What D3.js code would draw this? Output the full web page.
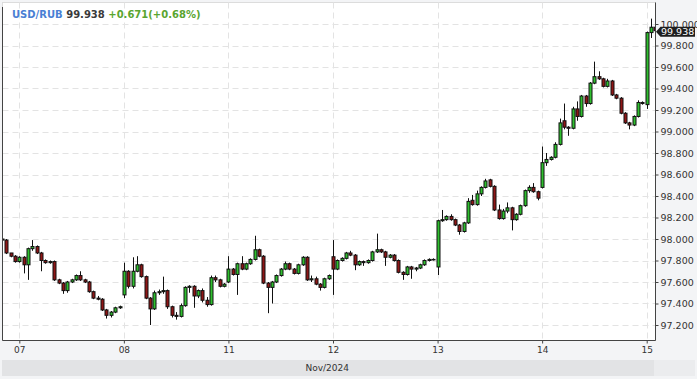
<!DOCTYPE html>
<html>
<head>
<meta charset="utf-8">
<script src="https://cdn.jsdelivr.net/npm/d3@7"></script>
<style>
  html, body { margin: 0; padding: 0; background: #f3f4f6; }
  svg { display: block; font-family: "DejaVu Sans", sans-serif; }
</style>
</head>
<body>
<div id="chart"></div>
<script>
// hourly candles, Nov 6 20:00 .. Nov 15 02:00 (weekend skipped)
const dayLabels = ["07", "08", "11", "12", "13", "14", "15"];
const dayIndex = [4, 28, 52, 76, 100, 124, 148];
const monthLabel = "Nov/2024";
const yTicks = [97.2, 97.4, 97.6, 97.8, 98.0, 98.2, 98.4, 98.6, 98.8, 99.0, 99.2, 99.4, 99.6, 99.8, 100.0];

const symbol = "USD/RUB";
const lastPrice = 99.938;
const change = "+0.671(+0.68%)";

const open = [
  98.00, 97.99, 97.87, 97.84, 97.79, 97.83, 97.76, 97.91, 97.93, 97.87, 97.80, 97.78, 97.79, 97.62, 97.59, 97.52,
  97.60, 97.62, 97.66, 97.62, 97.60, 97.51, 97.45, 97.44, 97.34, 97.29, 97.32, 97.36,
  97.48, 97.70, 97.56, 97.70, 97.76, 97.65, 97.45, 97.35, 97.50, 97.51, 97.52, 97.37,
  97.29, 97.28, 97.38, 97.55, 97.56, 97.47, 97.52, 97.43, 97.39, 97.64, 97.62, 97.56,
  97.60, 97.72, 97.67, 97.77, 97.72, 97.77, 97.81, 97.90, 97.84, 97.59, 97.55, 97.60, 97.66, 97.72,
  97.77, 97.72, 97.68, 97.76, 97.83, 97.62, 97.63, 97.58, 97.55, 97.63,
  97.835, 97.72, 97.80, 97.82, 97.87, 97.85, 97.76, 97.79, 97.78, 97.80, 97.88, 97.90, 97.88, 97.83,
  97.85, 97.80, 97.69, 97.67, 97.74, 97.72, 97.73, 97.76, 97.80, 97.81,
  97.74, 98.17, 98.18, 98.21, 98.18, 98.13, 98.07, 98.15, 98.36, 98.32, 98.42, 98.48, 98.55, 98.49,
  98.27, 98.19, 98.26, 98.29, 98.18, 98.23, 98.31, 98.45, 98.48, 98.44,
  98.48, 98.71, 98.74, 98.76, 98.88, 99.10, 99.04, 99.03, 99.21, 99.14, 99.33, 99.26, 99.45, 99.51,
  99.49, 99.42, 99.47, 99.34, 99.31, 99.17, 99.08, 99.06, 99.14, 99.27,
  99.25, 99.92, 99.97
];
const high = [
  98.01, 98.00, 97.87, 97.85, 97.84, 97.84, 97.92, 97.99, 97.94, 97.88, 97.81, 97.80, 97.80, 97.63, 97.60, 97.61,
  97.63, 97.67, 97.70, 97.63, 97.61, 97.52, 97.47, 97.45, 97.35, 97.33, 97.37, 97.38,
  97.78, 97.71, 97.83, 97.84, 97.77, 97.66, 97.46, 97.52, 97.53, 97.65, 97.53, 97.38,
  97.32, 97.40, 97.56, 97.57, 97.57, 97.53, 97.54, 97.46, 97.66, 97.66, 97.63, 97.59,
  97.84, 97.73, 97.78, 97.84, 97.78, 97.82, 98.03, 97.91, 97.85, 97.60, 97.61, 97.67, 97.73, 97.79,
  97.78, 97.73, 97.77, 97.84, 97.84, 97.66, 97.65, 97.59, 97.64, 97.67,
  97.99, 97.81, 97.83, 97.88, 97.89, 97.86, 97.80, 97.80, 97.81, 97.89, 98.05, 97.91, 97.89, 97.86,
  97.86, 97.81, 97.70, 97.75, 97.75, 97.74, 97.77, 97.81, 97.82, 97.82,
  98.18, 98.27, 98.22, 98.23, 98.19, 98.14, 98.16, 98.38, 98.41, 98.45, 98.49, 98.56, 98.56, 98.50,
  98.32, 98.28, 98.34, 98.30, 98.24, 98.32, 98.46, 98.50, 98.52, 98.45,
  98.86, 98.80, 98.77, 98.90, 99.12, 99.26, 99.05, 99.23, 99.28, 99.34, 99.34, 99.46, 99.65, 99.56,
  99.50, 99.49, 99.48, 99.35, 99.32, 99.18, 99.09, 99.15, 99.29, 99.28,
  99.93, 100.05, 100.03
];
const low = [
  97.97, 97.86, 97.83, 97.78, 97.78, 97.68, 97.62, 97.89, 97.86, 97.70, 97.77, 97.77, 97.61, 97.58, 97.49, 97.50,
  97.59, 97.61, 97.61, 97.59, 97.50, 97.44, 97.43, 97.33, 97.26, 97.27, 97.31, 97.35,
  97.45, 97.54, 97.54, 97.69, 97.64, 97.44, 97.20, 97.34, 97.48, 97.49, 97.35, 97.27,
  97.25, 97.27, 97.37, 97.50, 97.36, 97.45, 97.41, 97.37, 97.38, 97.60, 97.55, 97.55,
  97.59, 97.66, 97.48, 97.71, 97.71, 97.76, 97.80, 97.83, 97.58, 97.31, 97.40, 97.59, 97.65, 97.71,
  97.71, 97.67, 97.67, 97.75, 97.61, 97.60, 97.57, 97.52, 97.54, 97.62,
  97.48, 97.71, 97.79, 97.81, 97.84, 97.71, 97.75, 97.75, 97.77, 97.79, 97.87, 97.87, 97.75, 97.82,
  97.79, 97.68, 97.62, 97.66, 97.63, 97.70, 97.72, 97.75, 97.79, 97.80,
  97.665, 98.16, 98.17, 98.17, 98.12, 98.04, 98.06, 98.14, 98.31, 98.31, 98.40, 98.47, 98.48, 98.26,
  98.18, 98.18, 98.24, 98.08, 98.17, 98.22, 98.30, 98.43, 98.43, 98.36,
  98.47, 98.68, 98.73, 98.75, 98.87, 99.02, 98.96, 99.02, 99.10, 99.13, 99.23, 99.25, 99.44, 99.48,
  99.41, 99.41, 99.33, 99.30, 99.16, 99.07, 99.02, 99.05, 99.13, 99.25,
  99.21, 99.87, 99.93
];
const close = [
  97.99, 97.87, 97.84, 97.79, 97.83, 97.76, 97.91, 97.93, 97.87, 97.80, 97.78, 97.79, 97.62, 97.59, 97.52, 97.60,
  97.62, 97.66, 97.62, 97.60, 97.51, 97.45, 97.44, 97.34, 97.29, 97.32, 97.36, 97.37,
  97.70, 97.56, 97.70, 97.76, 97.65, 97.45, 97.35, 97.50, 97.51, 97.52, 97.37, 97.29,
  97.28, 97.38, 97.55, 97.56, 97.47, 97.52, 97.43, 97.39, 97.64, 97.62, 97.56, 97.58,
  97.72, 97.67, 97.77, 97.72, 97.77, 97.81, 97.90, 97.84, 97.59, 97.55, 97.60, 97.66, 97.72, 97.77,
  97.72, 97.68, 97.76, 97.83, 97.62, 97.63, 97.58, 97.55, 97.63, 97.66,
  97.72, 97.80, 97.82, 97.87, 97.85, 97.76, 97.79, 97.78, 97.80, 97.88, 97.90, 97.88, 97.83, 97.85,
  97.80, 97.69, 97.67, 97.74, 97.72, 97.73, 97.76, 97.80, 97.81, 97.81,
  98.17, 98.18, 98.21, 98.18, 98.13, 98.07, 98.15, 98.35, 98.32, 98.42, 98.48, 98.54, 98.49, 98.27,
  98.19, 98.26, 98.29, 98.18, 98.23, 98.31, 98.45, 98.48, 98.44, 98.38,
  98.71, 98.74, 98.76, 98.88, 99.08, 99.04, 99.03, 99.21, 99.14, 99.33, 99.26, 99.45, 99.51, 99.49,
  99.42, 99.47, 99.34, 99.31, 99.17, 99.08, 99.06, 99.14, 99.27, 99.26,
  99.92, 99.97, 99.938
];

const candles = open.map((o, i) => ({ i, o, h: high[i], l: low[i], c: close[i] }));

const width = 697;
const height = 379;
const plot = { left: 2.5, right: 655.5, top: 2.5, bottom: 340.5 };

const svg = d3
  .select("#chart")
  .append("svg")
  .attr("width", width)
  .attr("height", height);

// backgrounds
svg.append("rect").attr("width", width).attr("height", height).attr("fill", "#f3f4f6");
svg.append("rect").attr("x", 2).attr("y", 360).attr("width", 693).attr("height", 16).attr("fill", "#ebecee");
svg.append("rect").attr("x", 2).attr("y", 360).attr("width", 652).attr("height", 16).attr("fill", "#e2e3e5");
svg
  .append("rect")
  .attr("x", plot.left)
  .attr("y", plot.top)
  .attr("width", plot.right - plot.left)
  .attr("height", plot.bottom - plot.top)
  .attr("fill", "#fff")
  .attr("stroke", "#dcdcdc");

const xScale = d3.scaleLinear().domain([4, 148]).range([19.3, 646.7]);
const yScale = d3.scaleLinear().domain([97.2, 100.0]).range([325, 24]);

svg
  .append("clipPath")
  .attr("id", "clip")
  .append("rect")
  .attr("x", plot.left)
  .attr("y", plot.top)
  .attr("width", plot.right - plot.left)
  .attr("height", plot.bottom - plot.top);

// grid
const grid = svg.append("g").attr("stroke", "#e3e3e3").attr("stroke-dasharray", "6,4");
grid
  .selectAll("line.h")
  .data(yTicks)
  .enter()
  .append("line")
  .attr("x1", plot.left)
  .attr("x2", plot.right)
  .attr("y1", (d) => Math.round(yScale(d)) + 0.5)
  .attr("y2", (d) => Math.round(yScale(d)) + 0.5);
grid
  .selectAll("line.v")
  .data(dayIndex)
  .enter()
  .append("line")
  .attr("x1", (d) => Math.round(xScale(d)) + 0.5)
  .attr("x2", (d) => Math.round(xScale(d)) + 0.5)
  .attr("y1", plot.top)
  .attr("y2", plot.bottom);

// candles
const g = svg.append("g").attr("clip-path", "url(#clip)");
const bodyW = 3;

g.selectAll("line.wick")
  .data(candles)
  .enter()
  .append("line")
  .attr("x1", (d) => Math.round(xScale(d.i)) + 0.5)
  .attr("x2", (d) => Math.round(xScale(d.i)) + 0.5)
  .attr("y1", (d) => yScale(d.h))
  .attr("y2", (d) => yScale(d.l))
  .attr("stroke", "#111")
  .attr("stroke-width", 1);

g.selectAll("rect.body")
  .data(candles)
  .enter()
  .append("rect")
  .attr("x", (d) => Math.round(xScale(d.i)) + 0.5 - bodyW / 2)
  .attr("y", (d) => yScale(Math.max(d.o, d.c)))
  .attr("width", bodyW)
  .attr("height", (d) => Math.max(0.5, Math.abs(yScale(d.o) - yScale(d.c))))
  .attr("fill", (d) => (d.c >= d.o ? "#2fbf2f" : "#8e1616"))
  .attr("stroke", "#111")
  .attr("stroke-width", 1);

// frame
const frame = svg.append("g").attr("stroke", "#444").attr("stroke-width", 1);
frame.append("line").attr("x1", plot.left).attr("x2", plot.left).attr("y1", 7).attr("y2", plot.bottom);
frame.append("line").attr("x1", plot.left).attr("x2", plot.right).attr("y1", plot.bottom).attr("y2", plot.bottom);

// x axis
const xAxis = d3
  .axisBottom(xScale)
  .tickValues(dayIndex)
  .tickFormat((d, i) => dayLabels[i])
  .tickSize(3)
  .tickPadding(3);
const gx = svg
  .append("g")
  .attr("transform", `translate(0, ${plot.bottom})`)
  .call(xAxis);
gx.select(".domain").remove();
gx.selectAll(".tick line").attr("stroke", "#444");
gx.selectAll(".tick text")
  .attr("fill", "#333")
  .attr("font-size", "9px")
  .attr("font-family", "DejaVu Sans, sans-serif");

svg
  .append("text")
  .attr("x", 349)
  .attr("y", 371)
  .attr("text-anchor", "end")
  .attr("fill", "#333")
  .attr("font-size", "9px")
  .text(monthLabel);

// y axis on the right
const yAxis = d3
  .axisRight(yScale)
  .tickValues(yTicks)
  .tickFormat(d3.format(".3f"))
  .tickSize(3)
  .tickPadding(2);
const gy = svg
  .append("g")
  .attr("transform", `translate(${plot.right}, 0)`)
  .call(yAxis);
gy.select(".domain").attr("d", `M0,${plot.top}V${plot.bottom}`).attr("stroke", "#444");
gy.selectAll(".tick line").attr("stroke", "#444");
gy.selectAll(".tick text")
  .attr("fill", "#333")
  .attr("font-size", "9.5px")
  .attr("font-family", "DejaVu Sans, sans-serif");

// last price tag
const ty = yScale(lastPrice) + 1;
svg
  .append("path")
  .attr("d", `M${plot.right + 0.5},${ty} L${plot.right + 5},${ty - 5} H695 V${ty + 5} H${plot.right + 5} Z`)
  .attr("fill", "#1e1e1e");
svg
  .append("text")
  .attr("x", 661)
  .attr("y", ty)
  .attr("dy", "0.35em")
  .attr("fill", "#fff")
  .attr("font-size", "9.5px")
  .text(d3.format(".3f")(lastPrice));

// title
const title = svg
  .append("text")
  .attr("x", 12)
  .attr("y", 17.5)
  .attr("font-size", "10px")
  .attr("font-weight", "bold");
title.append("tspan").attr("fill", "#4a7fd4").text(symbol);
title.append("tspan").attr("fill", "#3a3a3a").text(" " + d3.format(".3f")(lastPrice));
title.append("tspan").attr("fill", "#5aa530").text(" " + change);
</script>
</body>
</html>
